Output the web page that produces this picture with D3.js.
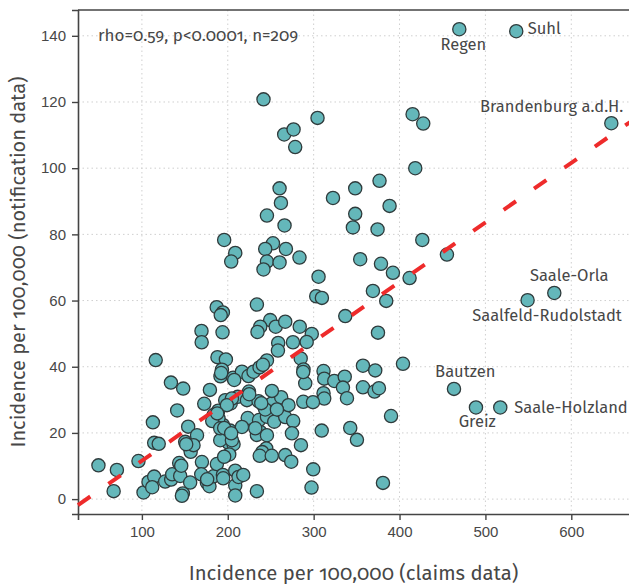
<!DOCTYPE html>
<html>
<head>
<meta charset="utf-8">
<script src="https://cdn.jsdelivr.net/npm/d3@7"></script>
<style>
  body { margin: 0; background: #fff; }
  svg { display: block; font-family: "Fira Sans", "Noto Sans", sans-serif; font-variant-numeric: oldstyle-nums; }
</style>
</head>
<body>
<div id="chart"></div>
<script>
// [claims incidence, notification incidence] per 100,000, one pair per district
const points = [
  [241.6,120.8],[265.7,110.2],[276.6,111.7],[278.5,106.4],[304.5,115.2],[415.2,116.3],[427.6,113.5],[418.3,100.0],[376.7,96.2],[348.4,93.9],
  [322.5,91.0],[388.4,88.6],[260.3,93.9],[261.9,89.5],[245.6,85.7],[266.1,82.7],[195.8,78.3],[208.7,74.4],[204.0,71.8],[252.6,77.3],
  [243.6,75.6],[267.7,75.6],[283.5,73.0],[245.6,71.8],[241.6,69.4],[260.3,71.5],[348.4,86.2],[345.7,82.1],[374.4,81.5],[426.5,78.3],
  [455.2,73.9],[354.2,72.5],[378.4,71.1],[392.3,68.4],[411.7,66.8],[305.7,67.2],[303.0,61.3],[309.6,60.8],[369.0,62.9],[384.5,59.9],
  [233.9,58.8],[187.1,58.0],[194.3,56.4],[191.8,55.6],
  [169.4,50.8],[169.6,47.4],[193.9,50.4],[249.4,54.1],[237.8,52.1],[234.6,50.5],[255.8,52.1],[266.9,53.6],[283.8,52.1],[297.8,49.9],
  [291.9,47.5],[258.7,47.2],[258.4,44.9],[275.9,47.4],[336.8,55.3],[374.9,50.3],[116.1,42.0],[188.0,42.9],[197.8,42.2],[245.6,41.9],[284.9,42.5],
  [357.4,40.3],[371.7,38.9],[404.0,40.9],[311.5,38.7],[312.3,36.4],[324.0,35.7],[336.2,37.0],[334.1,33.7],[338.8,30.5],[311.5,32.0],
  [312.3,30.4],[357.4,33.8],[370.9,32.5],[376.0,33.5],[390.1,25.1],[309.4,20.7],[342.6,21.5],[350.4,17.9],[380.7,4.9],[288.2,39.2],
  [290.2,35.0],[287.9,29.4],[299.2,29.3],[285.2,16.3],[299.5,9.0],[297.5,3.5],
  [49.4,10.2],[70.9,8.8],[67.1,2.4],[96.0,11.5],[101.9,2.0],[107.7,5.2],[114.3,6.8],[112.0,3.6],[112.8,23.2],[114.3,17.0],
  [119.6,16.7],[133.8,35.2],[148.1,33.4],[141.1,26.8],[127.1,5.3],[134.1,5.9],[135.3,7.5],[144.6,7.0],[143.4,10.9],[145.8,10.1],
  [147.7,1.7],[146.6,1.0],[156.2,5.0],[153.9,21.9],[150.4,17.3],[154.3,16.0],[156.8,14.3],[164.2,19.3],[169.9,11.2],[172.6,28.8],
  [179.2,33.0],[193.2,39.1],[191.5,37.1],[206.3,36.7],[169.1,7.5],[175.7,5.0],[178.7,3.9],[183.4,6.9],[187.3,10.6],[194.3,7.3],
  [208.7,8.6],[208.7,4.1],[208.7,1.1],[212.5,6.7],[218.0,7.3],[233.9,2.4],[188.9,26.7],[183.4,25.4],
  [194.3,22.4],[202.8,20.7],[195.0,18.9],[200.9,17.0],[206.7,16.6],[189.2,24.4],[181.9,23.6],[191.2,17.8],[197.0,29.9],[203.4,28.9],
  [211.6,30.9],[222.3,29.9],[224.7,32.5],[223.2,24.5],[235.8,29.6],[242.2,28.0],[236.4,23.9],[245.6,24.9],[237.8,20.3],[233.9,19.4],
  [245.6,19.3],[251.4,28.9],[254.1,23.4],[262.2,30.8],[266.9,24.8],[270.7,28.4],[276.2,23.6],[274.7,19.9],[244.8,15.3],[240.1,14.2],
  [237.2,13.1],[251.2,13.1],[266.9,13.3],[273.9,11.3],[216.5,38.5],[224.1,37.2],[230.0,38.5],[237.0,39.8],[240.9,40.6],[201.7,13.5],
  [195.8,12.8],
  [216.5,21.8],[191.2,21.4],[204.8,17.8],[232.0,21.4],[160.1,16.3],[204.8,30.4],[199.0,28.4],[243.6,27.1],[257.2,27.1],[251.4,32.7],
  [192.3,38.1],[207.5,36.0],[225.0,31.7],[239.0,29.0],[187.7,25.9],[195.8,21.5],[204.0,19.9],[194.7,6.3],[176.0,6.0],[151.6,16.6],[287.8,38.4]
];

// named outlier districts
const labelNames  = ["Regen", "Suhl", "Brandenburg a.d.H.", "Saale-Orla", "Saalfeld-Rudolstadt", "Bautzen", "Greiz", "Saale-Holzland"];
const labelClaims = [469.6, 535.9, 646.6, 580.2, 549.1, 463.4, 489.0, 517.3];
const labelNotif  = [142.0, 141.4, 113.6, 62.3, 60.1, 33.3, 27.7, 27.7];

const xTicks = [100, 200, 300, 400, 500, 600];
const yTicks = [0, 20, 40, 60, 80, 100, 120, 140];

const statsText = "rho=0.59, p<0.0001, n=209";
const fitIntercept = -6.4, fitSlope = 0.18;

// where each name sits relative to its dot
const labelPlace = {
  "Regen":               {dx: 4,    dy: 20.5, anchor: "middle"},
  "Suhl":                {dx: 11.5, dy: 3,    anchor: "start"},
  "Brandenburg a.d.H.":  {dx: 12,   dy: -11.5, anchor: "end"},
  "Saale-Orla":          {dx: 15,   dy: -12,  anchor: "middle"},
  "Saalfeld-Rudolstadt": {dx: 19.5, dy: 20.7, anchor: "middle"},
  "Bautzen":             {dx: 11.3, dy: -12,  anchor: "middle"},
  "Greiz":               {dx: 1.3,  dy: 20,   anchor: "middle"},
  "Saale-Holzland":      {dx: 14,   dy: 5.4,  anchor: "start"}
};

const W = 629, H = 586;
const mLeft = 78, mTop = 10, mBottom = 514, mRight = 640;
const textCol = "#474747";

const svg = d3.select("#chart").append("svg")
    .attr("width", W)
    .attr("height", H);

const x = d3.scaleLinear().domain([25.6, 680]).range([mLeft, mRight]);
const y = d3.scaleLinear().domain([-4.5, 147.8]).range([mBottom, mTop]);

// dotted grid
svg.append("g")
    .selectAll("line")
    .data(xTicks)
  .enter().append("line")
    .attr("x1", d => x(d)).attr("x2", d => x(d))
    .attr("y1", mTop).attr("y2", mBottom)
    .attr("stroke", "#cfcfcf")
    .attr("stroke-dasharray", "1.5,3");
svg.append("g")
    .selectAll("line")
    .data(yTicks)
  .enter().append("line")
    .attr("x1", mLeft).attr("x2", mRight)
    .attr("y1", d => y(d)).attr("y2", d => y(d))
    .attr("stroke", "#cfcfcf")
    .attr("stroke-dasharray", "1.5,3");

// frame: top, left, bottom
svg.append("line")
    .attr("x1", mLeft).attr("x2", mRight)
    .attr("y1", mTop).attr("y2", mTop)
    .attr("stroke", "#444").attr("stroke-width", 1.6);

const xAxis = svg.append("g")
    .attr("transform", `translate(0,${mBottom})`)
    .call(d3.axisBottom(x).tickValues(xTicks).tickSizeOuter(0).tickSize(6).tickPadding(6));
const yAxis = svg.append("g")
    .attr("transform", `translate(${mLeft},0)`)
    .call(d3.axisLeft(y).tickValues(yTicks).tickSizeOuter(0).tickSize(6).tickPadding(6));

[xAxis, yAxis].forEach(a => {
    a.select(".domain").attr("stroke", "#444").attr("stroke-width", 1.6);
    a.selectAll(".tick line").attr("stroke", "#444").attr("stroke-width", 1.4);
    a.selectAll(".tick text")
        .attr("fill", textCol)
        .style("font-size", "15px");
});

// dots
svg.append("g")
    .selectAll("circle")
    .data(points)
  .enter().append("circle")
    .attr("cx", d => x(d[0]))
    .attr("cy", d => y(d[1]))
    .attr("r", 6.6)
    .attr("fill", "#64b7ba")
    .attr("stroke", "#2f3b3c")
    .attr("stroke-width", 1.3);

const named = labelNames.map((n, i) => ({name: n, cx: labelClaims[i], cy: labelNotif[i]}));

svg.append("g")
    .selectAll("circle")
    .data(named)
  .enter().append("circle")
    .attr("cx", d => x(d.cx))
    .attr("cy", d => y(d.cy))
    .attr("r", 6.6)
    .attr("fill", "#64b7ba")
    .attr("stroke", "#2f3b3c")
    .attr("stroke-width", 1.3);

svg.append("g")
    .selectAll("text")
    .data(named)
  .enter().append("text")
    .attr("x", d => x(d.cx) + labelPlace[d.name].dx)
    .attr("y", d => y(d.cy) + labelPlace[d.name].dy)
    .attr("text-anchor", d => labelPlace[d.name].anchor)
    .attr("fill", textCol)
    .style("font-size", "16.5px")
    .text(d => d.name);

// fitted line
const xd = x.domain();
svg.append("line")
    .attr("x1", x(xd[0])).attr("y1", y(fitIntercept + fitSlope * xd[0]))
    .attr("x2", x(xd[1])).attr("y2", y(fitIntercept + fitSlope * xd[1]))
    .attr("stroke", "#ee2b2b")
    .attr("stroke-width", 4)
    .attr("stroke-dasharray", "15,22");

// stats note
svg.append("text")
    .attr("x", 98).attr("y", 41)
    .attr("fill", textCol)
    .style("font-size", "17px")
    .text(statsText);

// axis titles
svg.append("text")
    .attr("x", (mLeft + W) / 2).attr("y", 580)
    .attr("text-anchor", "middle")
    .attr("fill", textCol)
    .style("font-size", "20.3px")
    .text("Incidence per 100,000 (claims data)");
svg.append("text")
    .attr("transform", `translate(25,${(mTop + mBottom) / 2}) rotate(-90)`)
    .attr("text-anchor", "middle")
    .attr("fill", textCol)
    .style("font-size", "20px")
    .text("Incidence per 100,000 (notification data)");
</script>
</body>
</html>
